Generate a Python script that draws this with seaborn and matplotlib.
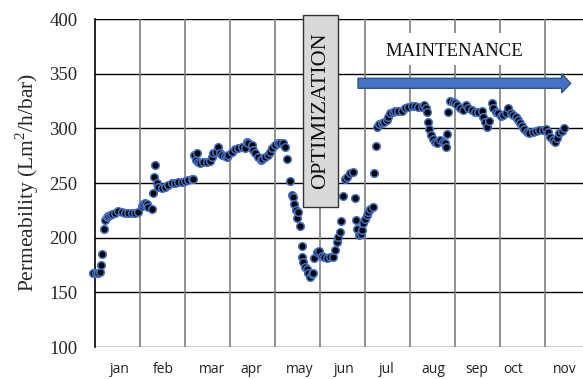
import matplotlib
matplotlib.use("Agg")
import matplotlib.pyplot as plt
import seaborn as sns
import pandas as pd
from matplotlib.patches import Rectangle, FancyArrow

# ---- data (day index from start of year, permeability) ----
days = [
    -1.1, 0.5, 2.0, 3.3, 4.0, 4.9, 6.0, 6.7, 7.8, 8.9, 10.0, 11.1, 13.3, 15.5, 17.8,
    20.0, 22.2, 24.5, 26.7, 28.9, 31.1, 32.2, 33.3, 34.5, 35.5, 37.8, 38.5, 39.5, 40.0,
    41.1, 42.2, 44.5, 46.7, 48.9, 51.1, 53.3, 55.5, 57.8, 60.0, 62.2, 64.5, 65.5,
    66.2, 67.1, 67.8, 68.9, 70.0, 72.2, 74.5, 76.7, 77.8, 78.9, 80.5, 81.8, 83.3,
    84.5, 86.7, 87.8, 88.9, 91.1, 93.3, 95.5, 97.8, 100.0, 101.1, 102.2, 104.5,
    105.5, 106.7, 108.9, 110.7, 111.5, 113.3, 115.1, 116.7, 118.2, 120.0, 122.2,
    123.3, 125.1, 126.7, 128.2, 130.0, 131.1, 132.2, 132.7, 134.0, 134.5, 135.5,
    136.7, 137.8, 138.2, 138.9, 140.0, 141.1, 142.2, 143.3, 144.5, 145.5, 146.0,
    147.8, 149.5, 151.1, 152.7, 154.5, 156.7, 158.9, 160.0, 161.1, 162.2, 163.3,
    163.8, 165.5, 166.7, 168.2, 170.0, 171.8, 173.3, 174.0, 174.9, 176.2, 177.1,
    177.8, 178.9, 180.0, 181.1, 182.2, 183.3, 185.5, 186.0, 187.3, 188.2, 189.5,
    191.1, 192.7, 194.5, 195.5, 196.7, 198.5, 200.0, 202.2, 204.5, 206.7, 208.9,
    211.1, 213.3, 215.5, 217.8, 219.3, 220.7, 221.5, 222.2, 222.9, 223.8, 225.1,
    226.7, 228.2, 230.0, 231.8, 233.3, 234.0, 234.9, 235.5, 236.7, 238.5, 240.0,
    241.5, 243.3, 245.5, 247.3, 248.9, 251.1, 253.3, 255.5, 257.8, 258.9, 260.0,
    261.5, 262.9, 264.5, 265.5, 267.3, 268.9, 270.5, 272.2, 274.0, 275.5, 277.1,
    278.9, 280.7, 282.2, 283.3, 284.5, 286.0, 287.8, 289.5, 291.8, 294.0, 296.2,
    298.5, 300.7, 302.2, 303.3, 305.1, 306.7, 308.2, 309.5, 311.1, 312.7,
]
permeability = [
    168.0, 167.4, 168.0, 168.9, 175.0, 185.0, 207.6, 216.0, 218.6, 219.8, 220.7, 221.6, 222.9, 224.4, 223.8,
    222.9, 222.3, 222.9, 222.9, 223.8, 229.0, 230.8, 232.0, 230.8, 227.8, 226.0, 241.0, 255.8, 266.5,
    249.7, 246.6, 245.1, 246.6, 248.2, 249.7, 249.7, 250.6, 251.2, 252.1, 252.7, 253.4, 253.4,
    275.6, 271.0, 277.2, 269.5, 268.6, 269.5, 269.5, 270.4, 273.5, 277.2, 278.6, 283.2, 277.2,
    275.6, 274.7, 273.5, 275.6, 278.6, 280.8, 281.7, 283.2, 281.7, 287.8, 286.3, 284.8,
    280.2, 277.2, 274.1, 271.0, 271.6, 273.5, 275.6, 278.6, 281.7, 284.8, 286.3,
    286.9, 286.3, 283.2, 271.7, 252.1, 239.0, 237.5, 230.8, 225.3, 217.7, 223.8,
    210.7, 192.4, 182.0, 178.0, 173.4, 171.0, 168.0, 164.3, 166.8, 168.0, 181.1,
    187.2, 188.1, 183.2, 182.0, 181.1, 182.0, 182.6, 188.7, 196.3, 200.9, 205.5,
    215.5, 238.1, 253.4, 255.8, 258.9, 260.4, 236.0, 216.2, 207.6, 202.4, 203.4,
    207.0, 213.1, 216.8, 220.7, 223.8, 226.0, 227.8, 258.9, 283.8, 301.5, 304.0,
    304.6, 306.1, 307.6, 310.7, 313.7, 315.2, 316.1, 316.1, 316.1, 318.3, 319.8,
    320.4, 320.4, 319.8, 319.8, 321.3, 318.3, 315.2, 306.1, 299.1, 293.9, 290.0,
    287.8, 286.9, 289.3, 287.8, 286.3, 282.7, 294.8, 315.2, 325.2, 324.3, 322.8,
    321.3, 318.3, 316.7, 321.3, 318.3, 316.7, 315.2, 315.2, 316.1, 310.7, 306.1,
    300.9, 306.9, 322.8, 318.3, 315.2, 313.7, 311.3, 312.2, 314.3, 318.3, 314.3,
    312.2, 310.1, 307.6, 304.6, 302.1, 299.1, 296.9, 296.0, 296.9, 297.8, 298.5,
    298.5, 299.1, 296.9, 292.3, 289.3, 287.8, 290.9, 295.4, 297.8, 300.0,
]
month_labels = ["jan", "feb", "mar", "apr", "may", "jun", "jul", "aug", "sep", "oct", "nov"]
month_label_pos = [16.7, 45.3, 78.0, 104.0, 136.7, 166.0, 194.7, 225.3, 254.7, 278.7, 313.3]
grid_days = [0, 30, 60, 90, 120, 150, 180, 210, 240, 270, 300]
y_ticks = [100, 150, 200, 250, 300, 350, 400]

df = pd.DataFrame({"day": days, "perm": permeability})

sns.set_theme(style="white")
plt.rcParams["font.family"] = ["Liberation Serif", "DejaVu Serif"]
plt.rcParams["mathtext.fontset"] = "custom"
plt.rcParams["mathtext.rm"] = "Liberation Serif"

fig = plt.figure(figsize=(5.83, 3.79), dpi=100)
ax = fig.add_axes([95 / 583, 1 - 347 / 379, 1 - 95 / 583, (347 - 19) / 379])

# grid lines
for g in y_ticks:
    ax.axhline(g, color="black", lw=1.0, zorder=1)
for g in grid_days[1:]:
    ax.axvline(g, color="#7f7f7f", lw=1.2, zorder=1)

sns.scatterplot(data=df, x="day", y="perm", ax=ax, color="black",
                edgecolor="#4472c4", linewidth=1.1, s=30, zorder=3, clip_on=False)

ax.set_xlim(0, (583 - 95) * 2 / 3)
ax.set_ylim(100, 400)
ax.set_yticks(y_ticks)
ax.set_yticklabels([str(v) for v in y_ticks], fontsize=13.5)
ax.set_xticks(month_label_pos)
ax.set_xticklabels(month_labels, fontsize=10, family=["Open Sans", "DejaVu Sans"], color="#222222")
ax.tick_params(axis="y", length=0, pad=12.5)
ax.tick_params(axis="x", length=0, pad=11)
ax.set_xlabel("")
ax.set_ylabel("Permeability (Lm$^2$/h/bar)", fontsize=15.5, labelpad=6)
for side in ["top", "right", "bottom"]:
    ax.spines[side].set_visible(False)
ax.spines["left"].set_color("black")
ax.spines["left"].set_linewidth(1.2)

# OPTIMIZATION box
fig.patches.append(Rectangle((303 / 583, 1 - 207 / 379), 35 / 583, 192 / 379,
                             transform=fig.transFigure, facecolor="#d9d9d9",
                             edgecolor="#333333", lw=1.0, zorder=5))
fig.text(320.5 / 583, 1 - 111 / 379, "OPTIMIZATION", rotation=90, ha="center",
         va="center", fontsize=16, color="#111111", zorder=6)

# MAINTENANCE label
fig.patches.append(Rectangle((378 / 583, 1 - 65 / 379), 153 / 583, 32 / 379,
                             transform=fig.transFigure, facecolor="white",
                             edgecolor="none", zorder=4))
fig.text(454 / 583, 1 - 52 / 379, "MAINTENANCE", ha="center", va="center",
         fontsize=13.5, color="#111111", zorder=6)

# arrow
fig.patches.append(FancyArrow(358 / 583, 1 - 83.3 / 379, (561.7 - 358) / 583, 0,
                              width=10 / 379, head_width=19 / 379,
                              head_length=9 / 583, length_includes_head=False,
                              transform=fig.transFigure, facecolor="#4472c4",
                              edgecolor="#2f528f", lw=1.0, zorder=6))

fig.savefig("out.png", dpi=100)
